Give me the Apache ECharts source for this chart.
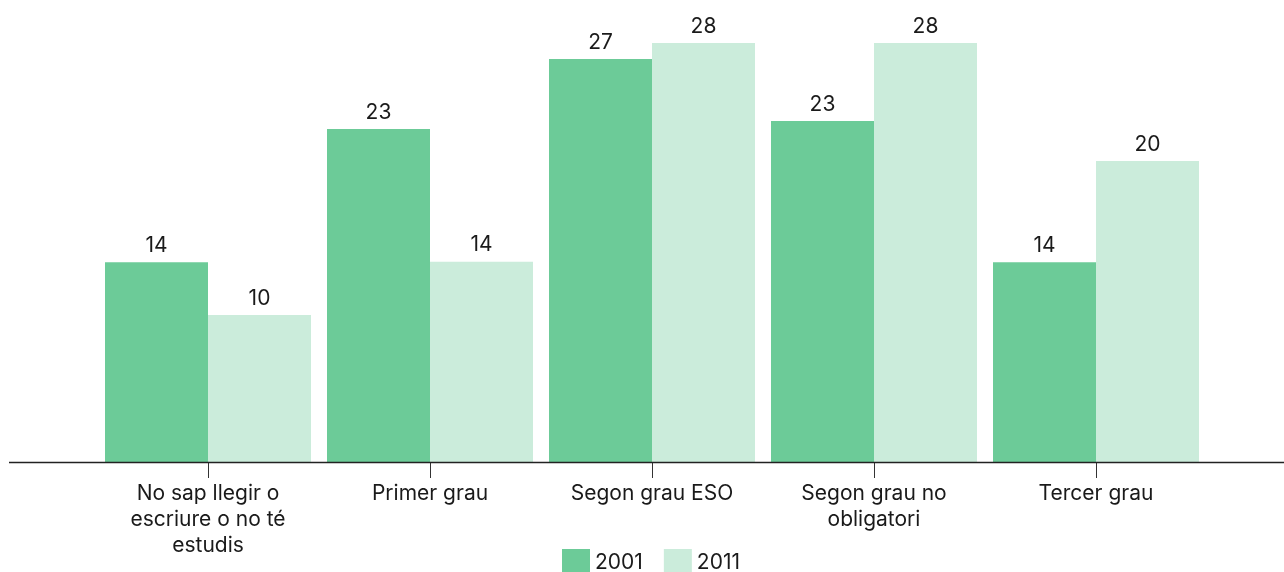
<!DOCTYPE html>
<html>
<head>
<meta charset="utf-8">
<script src="https://cdn.jsdelivr.net/npm/echarts@6/dist/echarts.min.js"></script>
<style>
html,body{margin:0;padding:0;background:#fff;}
#chart{width:1284px;height:572px;}
</style>
</head>
<body>
<div id="chart"></div>
<script>
var categories = ['No sap llegir o\nescriure o no té\nestudis', 'Primer grau', 'Segon grau ESO', 'Segon grau no\nobligatori', 'Tercer grau'];
var seriesNames = ['2001', '2011'];
var values2001 = [13.55, 22.6, 27.35, 23.15, 13.55];
var values2011 = [9.98, 13.6, 28.44, 28.44, 20.43];
var colors = ['#6ccb98', '#cbecdb'];

var FONT = 'Inter, "Noto Sans", sans-serif';
var chart = echarts.init(document.getElementById('chart'), null, {renderer: 'canvas'});

function labelCfg() {
  return {
    show: true,
    position: 'top',
    distance: 6,
    color: '#1a1a1a',
    fontSize: 21,
    fontFamily: FONT,
    formatter: function (p) { return Math.round(p.value); }
  };
}

var gridTop = 20, gridBottom = 110;

chart.setOption({
  animation: false,
  textStyle: {fontFamily: FONT},
  grid: {left: 97, right: 77, top: gridTop, bottom: gridBottom, containLabel: false},
  legend: {
    left: 562,
    top: 549,
    padding: 0,
    itemWidth: 28,
    itemHeight: 28,
    itemGap: 21,
    icon: 'rect',
    textStyle: {fontSize: 21, color: '#1a1a1a', fontFamily: FONT, padding: [0, 0, 0, 0]},
    data: seriesNames
  },
  xAxis: {
    type: 'category',
    data: categories,
    axisLine: {show: false},
    axisTick: {show: true, alignWithLabel: true, length: 16, lineStyle: {color: '#333', width: 1}},
    axisLabel: {
      interval: 0,
      margin: 19,
      fontSize: 21,
      lineHeight: 26,
      color: '#1a1a1a',
      fontFamily: FONT
    }
  },
  yAxis: {
    type: 'value',
    min: 0,
    max: 30,
    show: false,
    splitLine: {show: false}
  },
  graphic: [{
    type: 'line',
    shape: {x1: 9, y1: 572 - gridBottom + 0.5, x2: 1284, y2: 572 - gridBottom + 0.5},
    style: {stroke: '#222', lineWidth: 1.5},
    z: 10
  }],
  series: [
    {
      name: seriesNames[0],
      type: 'bar',
      data: values2001,
      barWidth: 103,
      barGap: '0%',
      itemStyle: {color: colors[0]},
      label: labelCfg()
    },
    {
      name: seriesNames[1],
      type: 'bar',
      data: values2011,
      barWidth: 103,
      barGap: '0%',
      itemStyle: {color: colors[1]},
      label: labelCfg()
    }
  ]
});
</script>
</body>
</html>
